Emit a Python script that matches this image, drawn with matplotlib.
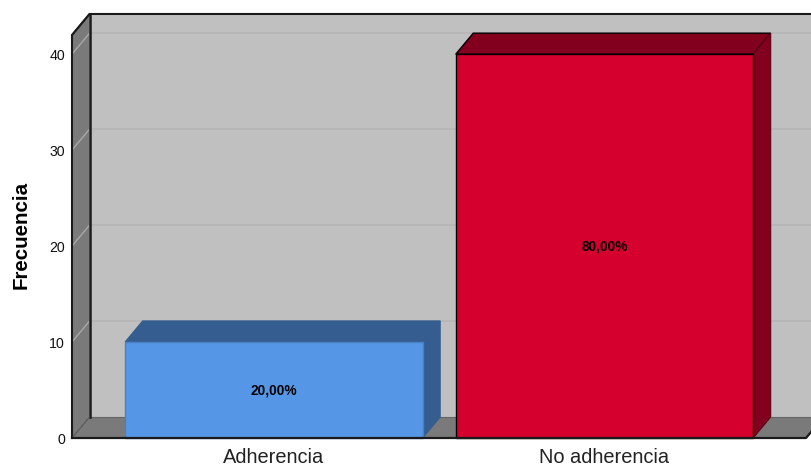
import matplotlib
matplotlib.use("Agg")
import matplotlib.pyplot as plt
from matplotlib.patches import Polygon, Rectangle

categories = ["Adherencia", "No adherencia"]
counts = [10, 40]
percent_labels = ["20,00%", "80,00%"]
y_ticks = [0, 10, 20, 30, 40]

FRONT = ["#5596e6", "#d6002e"]
SHADE = ["#355d8f", "#82001e"]
WALL = "#c0c0c0"
SIDE = "#7a7a7a"

plt.rcParams["font.family"] = ["Liberation Sans", "DejaVu Sans"]

W, H = 811, 466
fig = plt.figure(figsize=(W / 100, H / 100), dpi=100, facecolor="white")
ax = fig.add_axes([72 / W, (H - 438) / H, (811 - 72) / W, (438 - 35) / H])

x_lo, x_hi = -0.611, 1.625
y_lo, y_hi = 0, 42
ax.set_xlim(x_lo, x_hi)
ax.set_ylim(y_lo, y_hi)
ax.set_facecolor("none")
for s in ax.spines.values():
    s.set_visible(False)

# Oblique depth of the 3D box, in data units
dx, dy = 0.053, 2.19
x_end = 1.61  # right end of the floor's front edge
bar_width = 0.9


def poly(points, **kw):
    kw.setdefault("clip_on", False)
    ax.add_patch(Polygon(points, closed=True, **kw))


# Back wall, side wall and floor
ax.add_patch(Rectangle((x_lo + dx, dy), x_hi - x_lo, y_hi, facecolor=WALL, edgecolor="none",
                       clip_on=False, zorder=1))
poly([(x_lo, 0), (x_lo + dx, dy), (x_lo + dx, y_hi + dy), (x_lo, y_hi)],
     facecolor=SIDE, edgecolor="none", zorder=1)
poly([(x_lo, 0), (x_lo + dx, dy), (x_hi + dx, dy), (x_end, 0)],
     facecolor=SIDE, edgecolor="none", zorder=1.5)

# Gridlines run along the back wall and fold down across the side wall
for t in y_ticks[1:]:
    ax.plot([x_lo + dx, x_hi + dx], [t + dy, t + dy], color="#b6b6b6", lw=1.2,
            clip_on=False, zorder=2)
    ax.plot([x_lo, x_lo + dx], [t, t + dy], color="#a8a8a8", lw=1.0,
            clip_on=False, zorder=2)

# Outlines of the box
line = dict(color="#1a1a1a", clip_on=False)
ax.plot([x_lo, x_lo, x_lo + dx, x_hi + dx], [0, y_hi, y_hi + dy, y_hi + dy], lw=1.5, zorder=3, **line)
ax.plot([x_lo + dx, x_lo + dx], [dy, y_hi + dy], lw=1.8, zorder=3, **line)
ax.plot([x_lo + dx, x_lo], [y_hi + dy, y_hi], lw=1.2, zorder=3, **line)
ax.plot([x_lo, x_end, x_end + dx], [0, 0, dy], lw=1.6, zorder=5.5, **line)
ax.plot([x_lo, x_lo + dx], [0, dy], color="#555555", lw=0.8, clip_on=False, zorder=3)
ax.plot([x_lo + dx, x_hi + dx], [dy, dy], color="#666666", lw=0.8, clip_on=False, zorder=2.5)

# Bars: front face from the data, then top and side faces offset by the depth
positions = list(range(len(categories)))
front_edges = ["#4a7fc2", "#000000"]
shade_edges = ["#355d8f", "#000000"]
side_edges = ["#355d8f", "#5e0016"]
for i, (p, v) in enumerate(zip(positions, counts)):
    l, r = p - bar_width / 2, p + bar_width / 2
    poly([(l, v), (l + dx, v + dy), (r + dx, v + dy), (r, v)],
         facecolor=SHADE[i], edgecolor=shade_edges[i], linewidth=1.0, zorder=4)
    poly([(r, 0), (r + dx, dy), (r + dx, v + dy), (r, v)],
         facecolor=SHADE[i], edgecolor=side_edges[i], linewidth=0.8, zorder=4)
    ax.bar(p, v, width=bar_width, color=FRONT[i], edgecolor=front_edges[i], linewidth=1.0,
           zorder=5, clip_on=False)
    ax.annotate(percent_labels[i], (p, v / 2), xytext=(0, -0.3), textcoords="offset points",
                ha="center", va="center", fontsize=9.9, fontweight="bold",
                color="black", zorder=6)

ax.set_xticks(positions, categories)
ax.set_yticks(y_ticks)
ax.tick_params(axis="x", length=0, pad=7, labelsize=14.4, labelcolor="#222222")
ax.tick_params(axis="y", length=0, pad=5, labelsize=10.2, labelcolor="#111111")
ax.set_ylabel("Frecuencia", fontsize=14.8, fontweight="bold", color="black")
ax.yaxis.set_label_coords(-0.0563, 0.505, transform=ax.transAxes)

fig.savefig("out.png", dpi=100, facecolor="white")
